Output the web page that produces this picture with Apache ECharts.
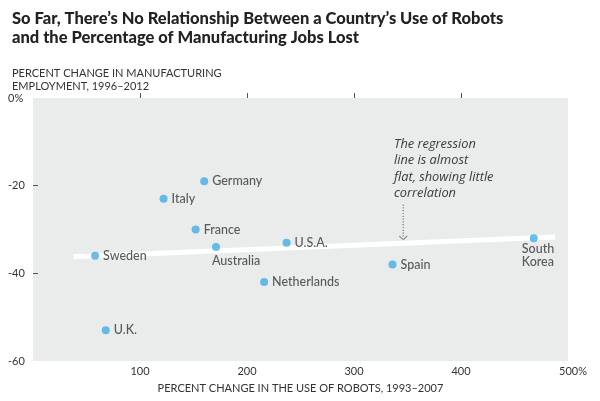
<!DOCTYPE html>
<html>
<head>
<meta charset="utf-8">
<script src="https://cdn.jsdelivr.net/npm/echarts@6/dist/echarts.min.js"></script>
<style>
html,body{margin:0;padding:0;background:#fff;}
#c{width:600px;height:401px;}
</style>
</head>
<body>
<div id="c"></div>
<script>
// Data
const countries = ['Germany','Italy','France','Australia','Sweden','U.S.A.','Netherlands','Spain','South Korea','U.K.'];
const robotChange = [160, 122, 152, 171, 58, 237, 216, 336, 468, 68];
const employmentChange = [-19, -23, -30, -34, -36, -33, -42, -38, -32, -53];
const regressionX = [38, 488];
const regressionY = [-36.2, -31.7];
const arrowX = [346, 346];
const arrowY = [-24.3, -31.9];
const xTicks = [100, 200, 300, 400, 500];
const yTicks = [0, -20, -40, -60];

const labelOverrides = {
  'Australia': {position: 'bottom', align: 'left', offset: [-4, -1]},
  'South Korea': {position: 'bottom', align: 'left', offset: [-12, -4], formatter: 'South\nKorea', lineHeight: 13}
};

const pts = countries.map((c, i) => {
  const item = {name: c, value: [robotChange[i], employmentChange[i]]};
  if (labelOverrides[c]) item.label = labelOverrides[c];
  return item;
});

const chart = echarts.init(document.getElementById('c'), null, {renderer: 'canvas'});
const FONT = 'Lato, "Liberation Sans", sans-serif';
chart.setOption({
  animation: false,
  backgroundColor: '#ffffff',
  title: [{
    text: 'So Far, There\u2019s No Relationship Between a Country\u2019s Use of Robots\nand the Percentage of Manufacturing Jobs Lost',
    left: 7, top: 4,
    textStyle: {fontFamily: FONT, fontWeight: 900, fontSize: 16.5, color: '#222', lineHeight: 19}
  }, {
    text: 'PERCENT CHANGE IN MANUFACTURING\nEMPLOYMENT, 1996\u20132012',
    left: 7, top: 62,
    textStyle: {fontFamily: FONT, fontWeight: 'normal', fontSize: 11, color: '#333', lineHeight: 13}
  }],
  grid: {left: 33, right: 32, top: 98, bottom: 40, show: true, backgroundColor: '#eaebeb', borderWidth: 0},
  xAxis: {
    type: 'value', min: 0, max: 500, interval: 100,
    name: 'PERCENT CHANGE IN THE USE OF ROBOTS, 1993\u20132007',
    nameLocation: 'middle', nameGap: 22,
    nameTextStyle: {fontFamily: FONT, fontSize: 11, color: '#333'},
    splitLine: {show: false},
    axisLine: {show: false},
    axisTick: {show: true, inside: true, length: 5, customValues: xTicks.slice(0, 4), lineStyle: {color: '#555'}},
    axisLabel: {
      customValues: xTicks, margin: 5,
      fontFamily: FONT, fontSize: 11, color: '#333',
      formatter: v => v === 500 ? '{pad|}{v|500%}' : String(v),
      rich: {pad: {width: 10}, v: {fontFamily: FONT, fontSize: 11, color: '#333'}}
    }
  },
  yAxis: {
    type: 'value', min: -60, max: 0, interval: 20,
    splitLine: {show: false},
    axisLine: {show: false},
    axisTick: {show: true, inside: true, length: 5, customValues: [-20, -40], lineStyle: {color: '#555'}},
    axisLabel: {
      customValues: yTicks, align: 'left', margin: 25,
      fontFamily: FONT, fontSize: 11, color: '#333',
      formatter: v => v === 0 ? '0%' : String(v)
    }
  },
  series: [{
    type: 'line',
    data: regressionX.map((x, i) => [x, regressionY[i]]),
    symbol: 'none', z: 1,
    lineStyle: {color: '#ffffff', width: 5},
    silent: true
  }, {
    type: 'line',
    data: arrowX.map((x, i) => [x, arrowY[i]]),
    symbol: 'none', showSymbol: false, z: 2,
    lineStyle: {color: '#777', width: 1.2, type: [1.2, 1.6]},
    silent: true
  }, {
    type: 'scatter',
    data: [[arrowX[1], arrowY[1]]],
    symbol: 'path://M0,0 L5,4 L10,0 L10,1.5 L5,5.5 L0,1.5 Z',
    symbolSize: [8, 5],
    itemStyle: {color: '#666'},
    z: 2, silent: true
  }, {
    type: 'scatter',
    data: pts,
    symbolSize: 8, z: 5,
    itemStyle: {color: '#43ade6'},
    label: {
      show: true, position: 'right', distance: 4,
      formatter: p => p.name,
      fontFamily: FONT, fontSize: 12.5, color: '#333', fontWeight: 500
    }
  }],
  graphic: [{
    type: 'text', left: 394, top: 136,
    style: {
      text: 'The regression\nline is almost\nflat, showing little\ncorrelation',
      font: 'italic 500 12.8px "Open Sans", Lato, sans-serif',
      fill: '#3a3a3a', lineHeight: 16.5
    }
  }]
});
</script>
</body>
</html>
